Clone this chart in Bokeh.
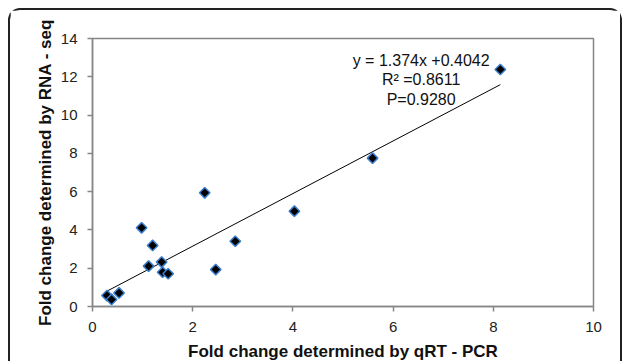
import numpy as np
from bokeh.plotting import figure
from bokeh.models import Range1d, FixedTicker, Label
from bokeh.embed import file_html
from bokeh.resources import INLINE

# Data
qrt_pcr = [0.29, 0.38, 0.53, 0.98, 1.12, 1.20, 1.38, 1.40, 1.51, 2.24, 2.46, 2.85, 4.03, 5.59, 8.14]
rna_seq = [0.57, 0.37, 0.71, 4.11, 2.11, 3.19, 2.32, 1.79, 1.71, 5.94, 1.93, 3.41, 4.98, 7.75, 12.38]
slope = 1.374
intercept = 0.4042
eq_lines = ["y = 1.374x +0.4042", "R\u00b2 =0.8611", "P=0.9280"]
eq_y = [12.85, 11.86, 10.82]
x_ticks = [0, 2, 4, 6, 8, 10]
y_ticks = [0, 2, 4, 6, 8, 10, 12, 14]

FONT = "Liberation Sans"
GRAY = "#868686"

p = figure(width=614, height=353, output_backend="svg", toolbar_location=None,
           x_range=Range1d(0, 10), y_range=Range1d(0, 14),
           min_border_left=82, min_border_right=31, min_border_top=28, min_border_bottom=57)
p.styles = {"margin-left": "8px", "margin-top": "8px",
            "border-top": "2px solid #222", "border-left": "2px solid #222",
            "border-right": "2px solid #222", "border-radius": "12px 12px 0 0"}
p.background_fill_color = "white"
p.border_fill_color = "white"
p.grid.visible = False
p.outline_line_color = GRAY
p.outline_line_width = 1.5

for ax in (p.xaxis[0], p.yaxis[0]):
    ax.axis_line_color = GRAY
    ax.axis_line_width = 1.5
    ax.major_tick_line_color = GRAY
    ax.major_tick_line_width = 1.5
    ax.major_tick_out = 5
    ax.major_tick_in = 0
    ax.minor_tick_line_color = None
    ax.major_label_text_font = FONT
    ax.major_label_text_font_size = "15px"
    ax.major_label_text_color = "#222"
    ax.axis_label_text_font = FONT
    ax.axis_label_text_font_size = "17px"
    ax.axis_label_text_font_style = "bold"
    ax.axis_label_text_color = "#111"

p.xaxis.ticker = FixedTicker(ticks=x_ticks)
p.yaxis.ticker = FixedTicker(ticks=y_ticks)
p.xaxis.axis_label = "Fold change determined by qRT - PCR"
p.yaxis.axis_label = "Fold change determined by RNA - seq"
p.xaxis.major_label_standoff = 10
p.xaxis.axis_label_standoff = 7
p.yaxis.major_label_standoff = 10
p.yaxis.axis_label_standoff = 3

# trendline
x0, x1 = min(qrt_pcr), max(qrt_pcr)
p.line([x0, x1], [slope * x0 + intercept, slope * x1 + intercept], line_color="black", line_width=1)

p.scatter(qrt_pcr, rna_seq, marker="square", angle=np.pi / 4, size=7.5,
          fill_color="black", line_color="#3b7fcc", line_width=1.5)

for t, yy in zip(eq_lines, eq_y):
    p.add_layout(Label(x=6.56, y=yy, text=t, text_align="center", text_baseline="middle",
                       text_font=FONT, text_font_size="16px", text_color="#111"))

open("out.html", "w").write(file_html(p, INLINE))
